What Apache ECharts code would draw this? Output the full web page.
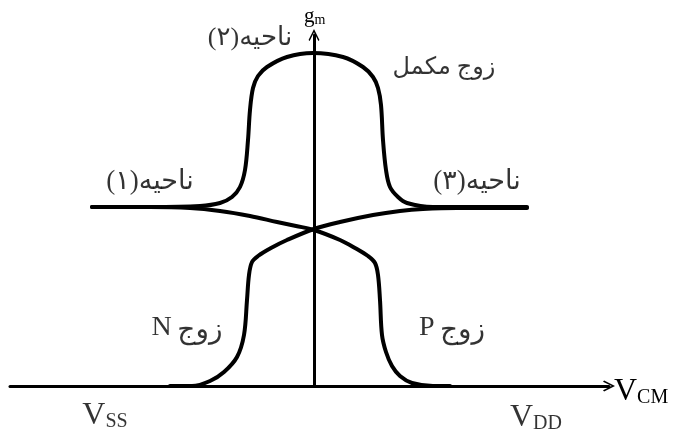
<!DOCTYPE html>
<html>
<head>
<meta charset="utf-8">
<script src="https://cdn.jsdelivr.net/npm/echarts@6/dist/echarts.min.js"></script>
<style>
  html, body { margin: 0; padding: 0; background: #fff; }
  #chart { width: 681px; height: 436px; }
</style>
</head>
<body>
<div id="chart"></div>
<script>
// زوج مکمل (بالا)
var complementary = [
  [-222,179],[-164,179],[-114,180],[-94,183],[-82,189],[-74,199],[-69,216],[-66,246],[-64,276],
  [-61,298],[-56,310],[-47,319],[-27,329],[-1,333],[29,329],[49,319],[59,309],[64,298],[67,281],
  [69,246],[72,216],[76,199],[84,189],[93,183],[119,179],[166,179],[213,179]
];
// زوج P
var pPair = [
  [-222,179],[-164,179],[-124,178],[-94,175],[-64,170],[-37,164],[-18,160],[0,156],[26,146],
  [41,138],[54,130],[61,123],[64,111],[66,86],[68,51],[72,34],[78,20],[86,10],[98,3],[119,0],[136,0]
];
// زوج N
var nPair = [
  [-144,0],[-122,0],[-104,5],[-90,14],[-77,29],[-70,51],[-67,86],[-65,111],[-62,124],[-56,130],
  [-43,138],[-27,146],[0,157],[26,164],[59,171],[86,175],[109,177],[143,178],[213,178]
];
// برچسب‌ها
var labelTexts = ['ناحیه(۲)', 'زوج مکمل', 'ناحیه(۱)', 'ناحیه(۳)', '{l|N} {a|زوج}', '{l|P} {a|زوج}', '{v|V}{s|SS}', '{v|V}{s|DD}'];
var labelPos = [[-64,348],[130,318],[-164,204],[163,204],[-127,58],[138,58],[-209,-30],[222,-32]];

var chart = echarts.init(document.getElementById('chart'), null, { renderer: 'canvas' })
  ,font = "'Liberation Serif', 'DejaVu Sans', serif"
  ,arrow = 'path://M0,10 L5,0 L10,10 L9,11 L5,3 L1,11 Z'
  ,labelSize = [26, 24, 27, 27, 22, 22, 22, 22];

var curve = function(data){
  return {
    type: 'line',
    data: data,
    smooth: 0.35,
    symbol: 'none',
    clip: false,
    lineStyle: { color: '#000', width: 4, cap: 'round', join: 'round' },
    silent: true
  };
};

var rich = {
  v: { fontFamily: font, fontSize: 32, color: '#000' },
  s: { fontFamily: font, fontSize: 20, color: '#000', verticalAlign: 'bottom' },
  g: { fontFamily: font, fontSize: 21, color: '#000' },
  m: { fontFamily: font, fontSize: 14, color: '#000', verticalAlign: 'bottom' },
  l: { fontFamily: font, fontSize: 28, color: '#000' },
  a: { fontFamily: font, fontSize: 28, color: '#000', padding: [6, 0, 0, 0] }
};

var labelData = labelPos.map(function(p, i){
  return { value: [p[0], p[1]], name: labelTexts[i], label: { fontSize: labelSize[i] } };
});

chart.setOption({
  backgroundColor: '#fff',
  animation: false,
  grid: { left: 10, right: 72, top: 35, bottom: 50 },
  xAxis: {
    type: 'value', min: -304, max: 295,
    axisLine: { show: true, symbol: ['none', arrow], symbolSize: [11, 12],
      lineStyle: { color: '#000', width: 3 } },
    axisTick: { show: false }, axisLabel: { show: false }, splitLine: { show: false },
    name: '{v|V}{s|CM}', nameLocation: 'end', nameGap: 5,
    nameTextStyle: { rich: rich, padding: [12, 0, 0, 0] }
  },
  yAxis: {
    type: 'value', min: 0, max: 351,
    axisLine: { show: true, onZero: true, symbol: ['none', arrow], symbolSize: [11, 12],
      lineStyle: { color: '#000', width: 3 } },
    axisTick: { show: false }, axisLabel: { show: false }, splitLine: { show: false },
    name: '{g|g}{m|m}', nameLocation: 'end', nameGap: 8,
    nameTextStyle: { rich: rich, align: 'left', padding: [0, 0, 0, -10] }
  },
  series: [
    curve(complementary),
    curve(pPair),
    curve(nPair),
    {
      type: 'scatter',
      data: labelData,
      symbolSize: 0,
      clip: false,
      silent: true,
      label: {
        show: true, position: 'inside',
        formatter: function(p){ return p.name; },
        fontFamily: font, fontSize: 22, color: '#000',
        rich: rich
      }
    }
  ]
});
</script>
</body>
</html>
